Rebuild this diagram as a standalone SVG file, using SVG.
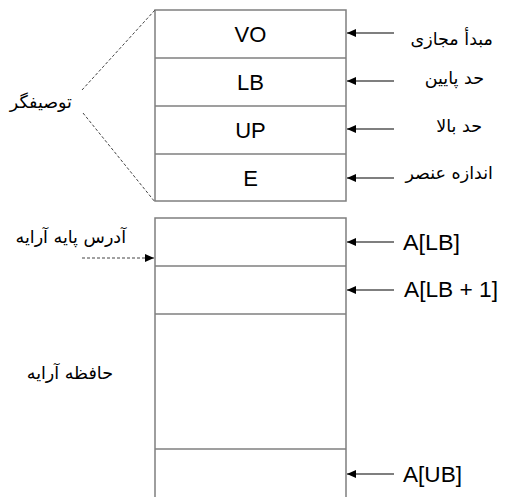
<svg xmlns="http://www.w3.org/2000/svg" width="507" height="497" viewBox="0 0 507 497">
<style>
.box{fill:#fff;stroke:#7f7f7f;stroke-width:1.5}
.sep{stroke:#7f7f7f;stroke-width:1.5}
.lat{font-family:"Liberation Sans",Arial,sans-serif;font-size:22px;fill:#000}
.fa{font-family:"DejaVu Sans",sans-serif;font-size:17.5px;fill:#000}
.arr{stroke:#555;stroke-width:1.3;fill:none}
.dash{stroke:#444;stroke-width:1;stroke-dasharray:3,2;fill:none}
</style>
<defs>
<marker id="ah" markerWidth="10" markerHeight="8" refX="9" refY="4" orient="auto" markerUnits="userSpaceOnUse">
<path d="M0,0 L9,4 L0,8 Z" fill="#000"/>
</marker>
</defs>
<g id="descriptor">
<rect class="box" x="155" y="10" width="191" height="191"/>
<line class="sep" x1="155" y1="58" x2="346" y2="58"/>
<line class="sep" x1="155" y1="106" x2="346" y2="106"/>
<line class="sep" x1="155" y1="154" x2="346" y2="154"/>
<text class="lat" x="250.5" y="42" text-anchor="middle">VO</text>
<text class="lat" x="250.5" y="90" text-anchor="middle">LB</text>
<text class="lat" x="250.5" y="138" text-anchor="middle">UP</text>
<text class="lat" x="250.5" y="186" text-anchor="middle">E</text>
</g>
<g id="array">
<path class="box" d="M155,497 L155,218 L346,218 L346,497"/>
<line class="sep" x1="155" y1="266" x2="346" y2="266"/>
<line class="sep" x1="155" y1="314" x2="346" y2="314"/>
<line class="sep" x1="155" y1="449" x2="346" y2="449"/>
</g>
<g id="labels">
<text class="fa" x="493" y="45" text-anchor="end">مبدأ مجازی</text>
<text class="fa" x="484" y="84" text-anchor="end">حد پایین</text>
<text class="fa" x="482" y="132" text-anchor="end">حد بالا</text>
<text class="fa" x="493" y="179" text-anchor="end">اندازه عنصر</text>
<text class="fa" x="72" y="108" text-anchor="end">توصیفگر</text>
<text class="fa" x="126" y="243" text-anchor="end">آدرس پایه آرایه</text>
<text class="fa" x="113" y="379" text-anchor="end">حافظه آرایه</text>
<text class="lat" x="403" y="250" textLength="57" lengthAdjust="spacingAndGlyphs">A[LB]</text>
<text class="lat" x="404" y="297" textLength="94" lengthAdjust="spacingAndGlyphs">A[LB + 1]</text>
<text class="lat" x="403" y="482" textLength="59" lengthAdjust="spacingAndGlyphs">A[UB]</text>
</g>
<g id="connectors">
<line class="arr" x1="394" y1="33" x2="347" y2="33" marker-end="url(#ah)"/>
<line class="arr" x1="394" y1="81" x2="347" y2="81" marker-end="url(#ah)"/>
<line class="arr" x1="394" y1="129" x2="347" y2="129" marker-end="url(#ah)"/>
<line class="arr" x1="394" y1="178" x2="347" y2="178" marker-end="url(#ah)"/>
<line class="arr" x1="394" y1="242" x2="347" y2="242" marker-end="url(#ah)"/>
<line class="arr" x1="394" y1="290" x2="347" y2="290" marker-end="url(#ah)"/>
<line class="arr" x1="394" y1="474" x2="347" y2="474" marker-end="url(#ah)"/>
<line class="dash" x1="82" y1="258" x2="154" y2="258" marker-end="url(#ah)"/>
<line class="dash" x1="82" y1="90" x2="155" y2="10"/>
<line class="dash" x1="83" y1="113" x2="155" y2="202"/>
</g>
</svg>
